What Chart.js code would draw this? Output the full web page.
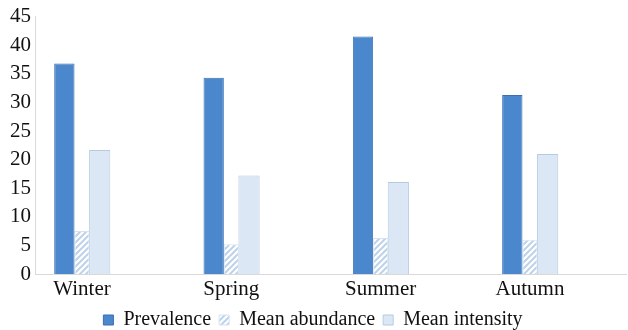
<!DOCTYPE html>
<html lang="en">
<head>
  <meta charset="UTF-8" />
  <title>Seasonal prevalence</title>
  <script src="https://cdn.jsdelivr.net/npm/chart.js"></script>
  <style>
    html, body { margin: 0; padding: 0; background: #fff; }
    #wrap { width: 628px; height: 330px; }
  </style>
</head>
<body>
  <div id="wrap"><canvas id="seasonChart" width="628" height="330"></canvas></div>

  <script>
    const seasons = ['Winter', 'Spring', 'Summer', 'Autumn'];
    const prevalence = [36.8, 34.3, 41.5, 31.3];
    const meanAbundance = [7.5, 5.2, 6.3, 6.0];
    const meanIntensity = [21.7, 17.2, 16.1, 21.0];
    const yTicks = [0, 5, 10, 15, 20, 25, 30, 35, 40, 45];

    // diagonal stripes for mean abundance
    function stripes() {
      const c = document.createElement('canvas');
      c.width = 6; c.height = 6;
      const g = c.getContext('2d');
      g.fillStyle = '#ffffff';
      g.fillRect(0, 0, 6, 6);
      g.strokeStyle = '#bcd2ea';
      g.lineWidth = 2;
      g.beginPath();
      g.moveTo(-1, 7); g.lineTo(7, -1);
      g.moveTo(-4, 4); g.lineTo(4, -4);
      g.moveTo(2, 10); g.lineTo(10, 2);
      g.stroke();
      return g.createPattern(c, 'repeat');
    }

    const toPoints = arr => arr.map((v, i) => ({ x: i, y: v }));
    const serif = "'Liberation Serif', 'DejaVu Serif', serif";

    new Chart(document.getElementById('seasonChart'), {
      type: 'bar',
      data: {
        datasets: [{
          label: 'Prevalence',
          data: toPoints(prevalence),
          backgroundColor: '#4a87cc',
          borderColor: '#3a6fb0',
          borderWidth: 1,
          barPercentage: 1.15
        }, {
          label: 'Mean abundance',
          data: toPoints(meanAbundance),
          backgroundColor: stripes(),
          borderColor: '#d6e3f1',
          borderWidth: 1,
          barPercentage: 0.85
        }, {
          label: 'Mean intensity',
          data: toPoints(meanIntensity),
          backgroundColor: '#dbe7f4',
          borderColor: '#b5cbe4',
          borderWidth: 1,
          barPercentage: 1.2
        }]
      },
      options: {
        responsive: false,
        animation: false,
        categoryPercentage: 0.355,
        // negative bottom lets the legend sit as low as in the original
        layout: { padding: { top: 4, right: 2, left: 0, bottom: -10 } },
        scales: {
          x: {
            type: 'linear',
            offset: false,
            min: -0.315,
            max: 3.643,
            afterFit: s => { s.height = 28; },
            grid: { display: false, drawTicks: false },
            border: { display: true, color: '#d9d9d9', width: 1 },
            afterBuildTicks: s => { s.ticks = seasons.map((_, i) => ({ value: i })); },
            ticks: {
              autoSkip: false,
              maxRotation: 0,
              padding: 3,
              color: '#111',
              font: { family: serif, size: 21 },
              callback: v => seasons[v]
            }
          },
          y: {
            min: 0,
            max: 45,
            afterFit: s => { s.width = 35; },
            afterBuildTicks: s => { s.ticks = yTicks.map(v => ({ value: v })); },
            grid: { display: false, drawTicks: false },
            border: { display: true, color: '#d9d9d9', width: 1 },
            ticks: {
              autoSkip: false,
              padding: 4,
              color: '#111',
              font: { family: serif, size: 21 }
            }
          }
        },
        plugins: {
          legend: {
            position: 'bottom',
            labels: {
              boxWidth: 10,
              boxHeight: 10,
              padding: 8,
              color: '#111',
              font: { family: serif, size: 20 }
            }
          },
          tooltip: { enabled: false }
        }
      }
    });
  </script>
</body>
</html>
